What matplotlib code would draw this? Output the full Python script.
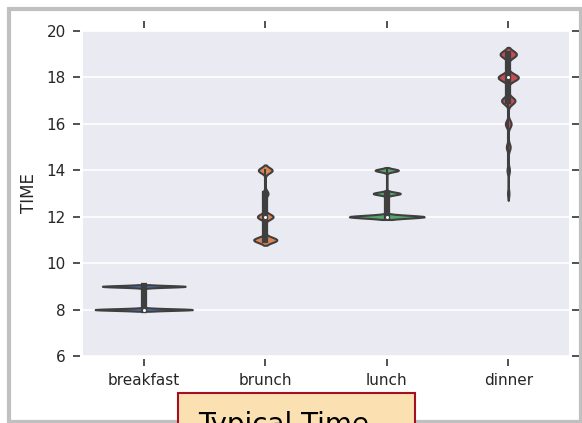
import numpy as np
import matplotlib
matplotlib.use("Agg")
import matplotlib.pyplot as plt
from matplotlib.patches import Rectangle

# ---------------- data ----------------
meals = ["breakfast", "brunch", "lunch", "dinner"]
breakfast_hours = [8, 9]
breakfast_counts = [270000, 230000]
brunch_hours = [11, 12, 13, 14]
brunch_counts = [47000, 32000, 11300, 28200]
lunch_hours = [12, 13, 14]
lunch_counts = [230000, 83500, 71500]
dinner_hours = [13, 14, 15, 16, 17, 18, 19]
dinner_counts = [2340, 3900, 6240, 9360, 21840, 32760, 26520]
yticks = [6, 8, 10, 12, 14, 16, 18, 20]
colors = ["#4C72B0", "#DD8452", "#55A868", "#C44E52"]
ylabel = "TIME"
box_text = "Typical Time"

hours = [breakfast_hours, brunch_hours, lunch_hours, dinner_hours]
counts = [breakfast_counts, brunch_counts, lunch_counts, dinner_counts]

# ---------------- figure ----------------
W, H = 582, 423
fig = plt.figure(figsize=(W / 100, H / 100), dpi=100)
fig.patch.set_facecolor("white")
ax = fig.add_axes([83 / W, (H - 356) / H, (569 - 83) / W, (356 - 31) / H])
ax.set_facecolor("#EAEAF2")
ax.set_axisbelow(True)
ax.yaxis.grid(True, color="white", linewidth=1.2)
ax.xaxis.grid(False)

gray = "#3f3f3f"
lw = 1.5
gridsize = 100
cut = 2
width = 0.8

# build each violin (Gaussian KDE, scott bandwidth, scaled by count)
datasets = [np.repeat(np.array(h, float), c) for h, c in zip(hours, counts)]
nmax = max(len(d) for d in datasets)
for i, (h, c, vals) in enumerate(zip(hours, counts, datasets)):
    h = np.array(h, float)
    c = np.array(c, float)
    n = len(vals)
    bw = vals.std(ddof=1) * n ** (-1 / 5)
    support = np.linspace(vals.min() - cut * bw, vals.max() + cut * bw, gridsize)
    dens = (c[None, :] * np.exp(-0.5 * ((support[:, None] - h[None, :]) / bw) ** 2)).sum(1)
    dens = dens / dens.max() * (n / nmax) * width / 2
    ax.fill_betweenx(support, i - dens, i + dens, facecolor=colors[i],
                     edgecolor=gray, linewidth=lw, zorder=2)
    q25, q50, q75 = np.percentile(vals, [25, 50, 75])
    lim = 1.5 * (q75 - q25)
    h1 = vals[vals >= q25 - lim].min()
    h2 = vals[vals <= q75 + lim].max()
    ax.plot([i, i], [h1, h2], color=gray, linewidth=lw, zorder=2.5)
    ax.plot([i, i], [q25, q75], color=gray, linewidth=lw * 3, zorder=2.5)
    ax.scatter([i], [q50], s=(lw * 2) ** 2, color="white", edgecolor=gray,
               linewidth=0.8, zorder=3)

ax.set_xlim(-0.5, len(meals) - 0.5)
ax.set_ylim(6, 20)
ax.set_xticks(range(len(meals)))
ax.set_xticklabels(meals)
ax.set_yticks(yticks)
ax.set_ylabel(ylabel, fontsize=12, color="#262626", labelpad=6)

for s in ax.spines.values():
    s.set_color("none")
    s.set_position(("outward", 2))
ax.tick_params(direction="out", length=5.3, width=1.2, color="#333333",
               top=True, right=True, labeltop=False, labelright=False,
               labelsize=11, labelcolor="#262626", pad=5)

# figure border
fig.patches.append(Rectangle((9 / W, 1.5 / H), (580.5 - 9) / W, (421.5 - 9.5) / H,
                             transform=fig.transFigure, fill=False,
                             edgecolor="#c0c0c0", linewidth=3, zorder=0))
# text box at the bottom (clipped by the figure edge)
fig.patches.append(Rectangle((178 / W, (H - 450) / H), (415 - 178) / W, (450 - 393) / H,
                             transform=fig.transFigure, facecolor="#fbe1b2",
                             edgecolor="#a50f1f", linewidth=1.5, zorder=5))
fig.text(198 / W, (H - 410.5) / H, box_text, fontsize=20, color="black",
         ha="left", va="top", zorder=6)

fig.savefig("out.png", dpi=100)
